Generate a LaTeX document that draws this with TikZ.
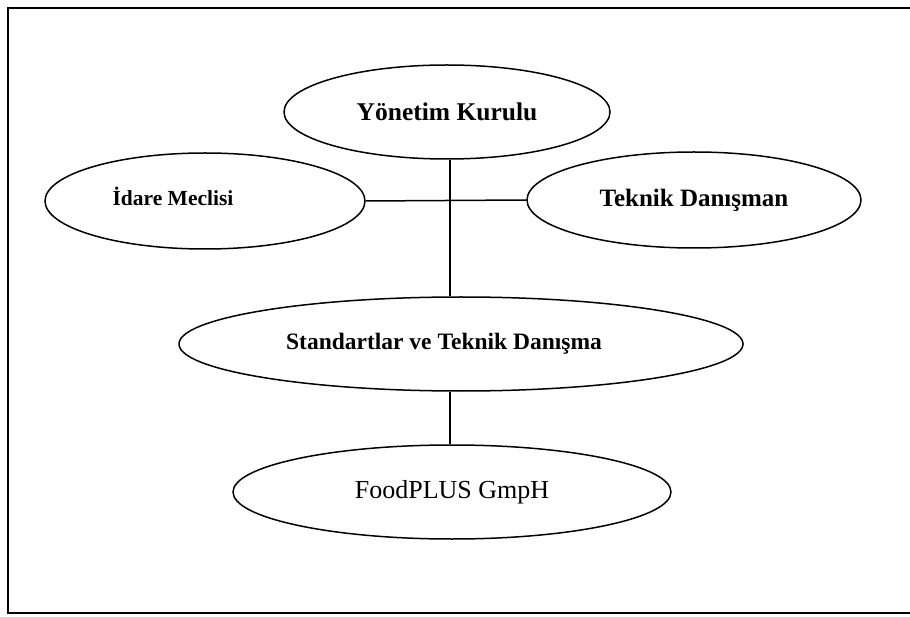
\documentclass[tikz,border=0pt]{standalone}
\usepackage{fontspec}
\setmainfont{Liberation Serif}
\usetikzlibrary{shapes.geometric}
\begin{document}
\begin{tikzpicture}[x=1pt,y=-1pt,
  oval/.style={draw=black, line width=1.5pt, ellipse, inner sep=0pt, text=black},
  conn/.style={draw=black, line width=1.5pt},
  frameline/.style={draw=black, line width=2.4pt}]
\useasboundingbox (0,0) rectangle (910,617);
\draw[frameline] (910,8) -- (8,8) -- (8,613) -- (910,613);
\node[oval, minimum width=326pt, minimum height=94pt, font=\fontsize{25.5}{29}\selectfont\bfseries] (yk) at (447,112) {Yönetim Kurulu};
\node[oval, minimum width=320pt, minimum height=96pt] (im) at (205,201) {};
\node[font=\fontsize{21.5}{25}\selectfont\bfseries] (imt) at (173,196) {İdare Meclisi};
\node[oval, minimum width=334pt, minimum height=96pt, font=\fontsize{25}{29}\selectfont\bfseries] (td) at (694,200) {Teknik Danışman};
\node[oval, minimum width=564pt, minimum height=94pt] (st) at (461,344) {};
\node[font=\fontsize{23.5}{27}\selectfont\bfseries] (stt) at (444,344) {Standartlar ve Teknik Danışma};
\node[oval, minimum width=438pt, minimum height=94pt, font=\fontsize{26}{30}\selectfont] (fp) at (452,492) {FoodPLUS GmpH};
\draw[conn] (yk.south) ++(3,0) coordinate (ykb) -- (ykb |- st.north);
\draw[conn] (im.east) -- (td.west);
\draw[conn] (fp.north) ++(-2,0) coordinate (fpt) -- (fpt |- st.south);
\end{tikzpicture}
\end{document}
